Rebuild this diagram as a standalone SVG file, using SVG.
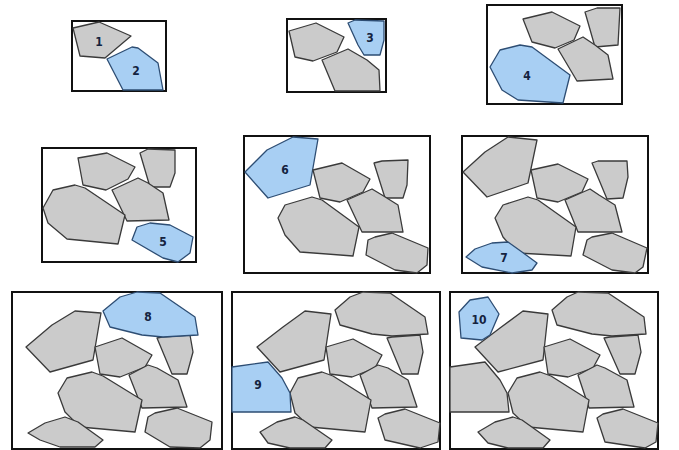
<svg xmlns="http://www.w3.org/2000/svg" width="679" height="450" viewBox="0 0 679 450">
<style>
.f{fill:#fff;stroke:#111;stroke-width:2}
.g{fill:#cbcbcb;stroke:#3a3a3a;stroke-width:1.3;stroke-linejoin:round}
.b{fill:#a8cff3;stroke:#2d4d73;stroke-width:1.3;stroke-linejoin:round}
.t{font-family:"DejaVu Sans Condensed","DejaVu Sans",sans-serif;font-weight:bold;font-size:12px;fill:#14233f;text-anchor:middle}
</style>
<rect width="679" height="450" fill="#fff"/>
<g id="panel1">
<rect class="f" x="72" y="21" width="94" height="70"/>
<polygon class="g" points="73,28 99,22 131,36 105,58 80,56"/>
<polygon class="b" points="107,59 132,47 138,48 158,63 163,90 123,90"/>
<text class="t" x="99" y="46">1</text>
<text class="t" x="136" y="75">2</text>
</g>
<g id="panel2">
<rect class="f" x="287" y="19" width="99" height="73"/>
<polygon class="g" points="289,31 316,23 344,37 337,52 313,61 295,57"/>
<polygon class="g" points="322,60 348,49 367,60 379,70 380,91 335,91"/>
<polygon class="b" points="348,23 355,20 384,21 384,40 380,55 364,55 358,45"/>
<text class="t" x="370" y="42">3</text>
</g>
<g id="panel3">
<rect class="f" x="487" y="5" width="135" height="99"/>
<polygon class="g" points="523,19 552,12 580,26 574,40 555,48 532,42"/>
<polygon class="g" points="585,12 597,8 620,8 618,45 595,47"/>
<polygon class="g" points="558,49 583,37 595,45 608,55 613,79 577,81"/>
<polygon class="b" points="490,67 500,50 520,45 532,47 570,75 563,103 518,100 502,90"/>
<text class="t" x="527" y="80">4</text>
</g>
<g id="panel4">
<rect class="f" x="42" y="148" width="154" height="114"/>
<polygon class="g" points="78,158 107,153 135,167 128,179 106,190 83,185"/>
<polygon class="g" points="140,153 148,149 175,150 175,173 170,187 150,187"/>
<polygon class="g" points="112,190 138,178 148,183 163,193 169,220 127,221"/>
<polygon class="g" points="43,208 53,190 75,185 85,188 125,215 118,244 67,239 48,223"/>
<polygon class="b" points="137,227 150,223 170,225 193,237 190,253 178,262 163,258 132,240"/>
<text class="t" x="163" y="246">5</text>
</g>
<g id="panel5">
<rect class="f" x="244" y="136" width="186" height="137"/>
<polygon class="b" points="245,172 267,150 293,137 318,139 310,185 268,198"/>
<polygon class="g" points="313,170 342,163 370,179 363,192 340,202 320,198"/>
<polygon class="g" points="374,163 382,161 408,160 407,185 403,198 385,198"/>
<polygon class="g" points="347,200 372,189 382,195 398,205 403,232 362,232"/>
<polygon class="g" points="278,218 285,205 312,197 322,200 359,227 353,256 300,252 285,235"/>
<polygon class="g" points="368,240 375,237 392,233 428,248 427,265 417,273 395,270 366,255"/>
<text class="t" x="285" y="174">6</text>
</g>
<g id="panel6">
<rect class="f" x="462" y="136" width="186" height="137"/>
<polygon class="g" points="463,172 485,152 508,137 537,140 528,183 487,197"/>
<polygon class="g" points="531,170 558,164 588,179 582,192 558,202 537,198"/>
<polygon class="g" points="592,163 598,161 627,161 628,177 623,198 607,199"/>
<polygon class="g" points="565,200 590,189 599,195 615,205 622,232 578,232"/>
<polygon class="g" points="495,218 503,205 528,197 538,200 576,227 571,256 517,253 503,237"/>
<polygon class="g" points="587,240 592,237 612,233 647,248 643,267 635,273 612,270 583,255"/>
<polygon class="b" points="466,257 475,249 492,243 508,242 522,252 537,263 532,270 512,273 482,267"/>
<text class="t" x="504" y="262">7</text>
</g>
<g id="panel7">
<rect class="f" x="12" y="292" width="210" height="157"/>
<polygon class="g" points="26,347 52,325 75,311 101,313 93,360 50,372"/>
<polygon class="g" points="95,347 122,338 152,355 145,367 120,377 100,374"/>
<polygon class="g" points="157,338 162,337 190,335 193,352 187,374 172,374"/>
<polygon class="g" points="129,375 148,365 157,368 178,380 187,407 142,408"/>
<polygon class="g" points="58,393 67,378 92,372 103,376 142,400 135,432 80,427 65,412"/>
<polygon class="g" points="148,417 155,413 177,408 212,422 210,440 200,448 170,447 145,432"/>
<polygon class="g" points="28,433 45,423 65,417 78,422 103,440 95,447 60,447 40,440"/>
<polygon class="b" points="103,311 120,297 137,292 160,293 195,317 198,335 163,337 142,335 110,327"/>
<text class="t" x="148" y="321">8</text>
</g>
<g id="panel8">
<rect class="f" x="232" y="292" width="208" height="157"/>
<polygon class="g" points="335,310 350,297 363,292 390,293 425,317 428,334 392,336 372,334 340,325"/>
<polygon class="g" points="257,347 283,327 305,311 331,314 324,360 280,372"/>
<polygon class="g" points="326,347 353,339 382,355 375,368 352,377 330,374"/>
<polygon class="g" points="387,338 392,337 420,335 423,352 418,374 402,374"/>
<polygon class="g" points="360,375 378,365 388,368 408,380 417,407 372,408"/>
<polygon class="g" points="290,393 298,378 322,372 333,376 371,400 365,432 310,427 295,413"/>
<polygon class="g" points="378,418 385,414 405,409 440,423 438,442 420,448 385,440"/>
<polygon class="g" points="260,432 277,422 295,417 303,420 332,440 325,448 290,448 268,443"/>
<polygon class="b" points="232,367 268,362 282,378 290,393 291,412 232,412"/>
<text class="t" x="258" y="389">9</text>
</g>
<g id="panel9">
<rect class="f" x="450" y="292" width="208" height="157"/>
<polygon class="g" points="552,310 567,297 578,292 608,293 644,317 646,334 612,336 592,334 557,325"/>
<polygon class="g" points="475,347 500,328 523,311 548,314 543,360 498,372"/>
<polygon class="g" points="450,367 485,362 500,380 507,393 509,412 450,412"/>
<polygon class="g" points="544,347 570,339 600,355 593,368 568,377 548,374"/>
<polygon class="g" points="604,338 610,337 638,335 641,352 635,374 620,374"/>
<polygon class="g" points="578,375 597,365 605,368 627,380 634,407 589,408"/>
<polygon class="g" points="508,393 517,378 540,372 551,376 589,400 583,432 528,427 513,413"/>
<polygon class="g" points="597,418 603,414 623,409 658,423 656,442 645,448 605,442"/>
<polygon class="g" points="478,432 495,422 513,417 522,420 550,440 543,448 508,448 488,443"/>
<polygon class="b" points="459,312 470,300 488,297 499,314 490,335 482,340 461,338"/>
<text class="t" x="479" y="324">10</text>
</g>
</svg>
